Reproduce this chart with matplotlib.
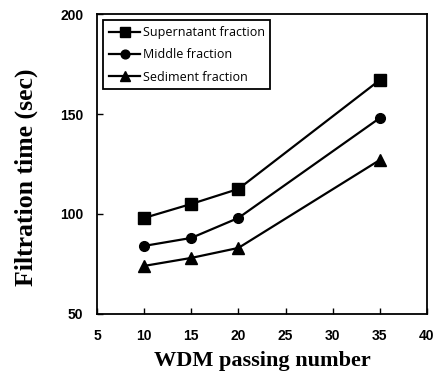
import matplotlib
matplotlib.use("Agg")
import matplotlib.pyplot as plt

passes = [10, 15, 20, 35]
supernatant = [98, 105, 112.5, 167]
middle = [84, 88, 98, 148]
sediment = [74, 78, 83, 127]

x_ticks = [5, 10, 15, 20, 25, 30, 35, 40]
y_ticks = [50, 100, 150, 200]

fig = plt.figure(figsize=(4.37, 3.8), dpi=100, facecolor='white')
ax = fig.add_axes([0.222, 0.174, 0.755, 0.789])

ax.plot(passes, supernatant, color='black', lw=1.6, marker='s', ms=8, label='Supernatant fraction')
ax.plot(passes, middle, color='black', lw=1.6, marker='o', ms=7, label='Middle fraction')
ax.plot(passes, sediment, color='black', lw=1.6, marker='^', ms=8, label='Sediment fraction')

ax.set_xlim(5, 40)
ax.set_ylim(50, 200)
ax.set_xticks(x_ticks)
ax.set_yticks(y_ticks)
ax.tick_params(direction='in', length=4, width=1, labelsize=10)
ax.tick_params(axis='x', pad=11)
ax.tick_params(axis='y', pad=10)
for lab in ax.get_xticklabels() + ax.get_yticklabels():
    lab.set_fontweight('bold')
    lab.set_family('Liberation Sans')
for s in ax.spines.values():
    s.set_linewidth(1.3)

ax.set_xlabel('WDM passing number', family='Liberation Serif', fontweight='bold', fontsize=16, labelpad=6)
ax.set_ylabel('Filtration time (sec)', family='Liberation Serif', fontweight='bold', fontsize=18.5,
              labelpad=16, y=0.455)

leg = ax.legend(loc='upper left', prop={'family': 'Open Sans', 'size': 9}, frameon=True, fancybox=False,
                edgecolor='black', framealpha=1, handlelength=2.5, handletextpad=0.2,
                borderaxespad=0.5, labelspacing=0.75, borderpad=0.45, markerscale=0.9)
leg.get_frame().set_linewidth(1.3)

fig.savefig('out.png', dpi=100)
